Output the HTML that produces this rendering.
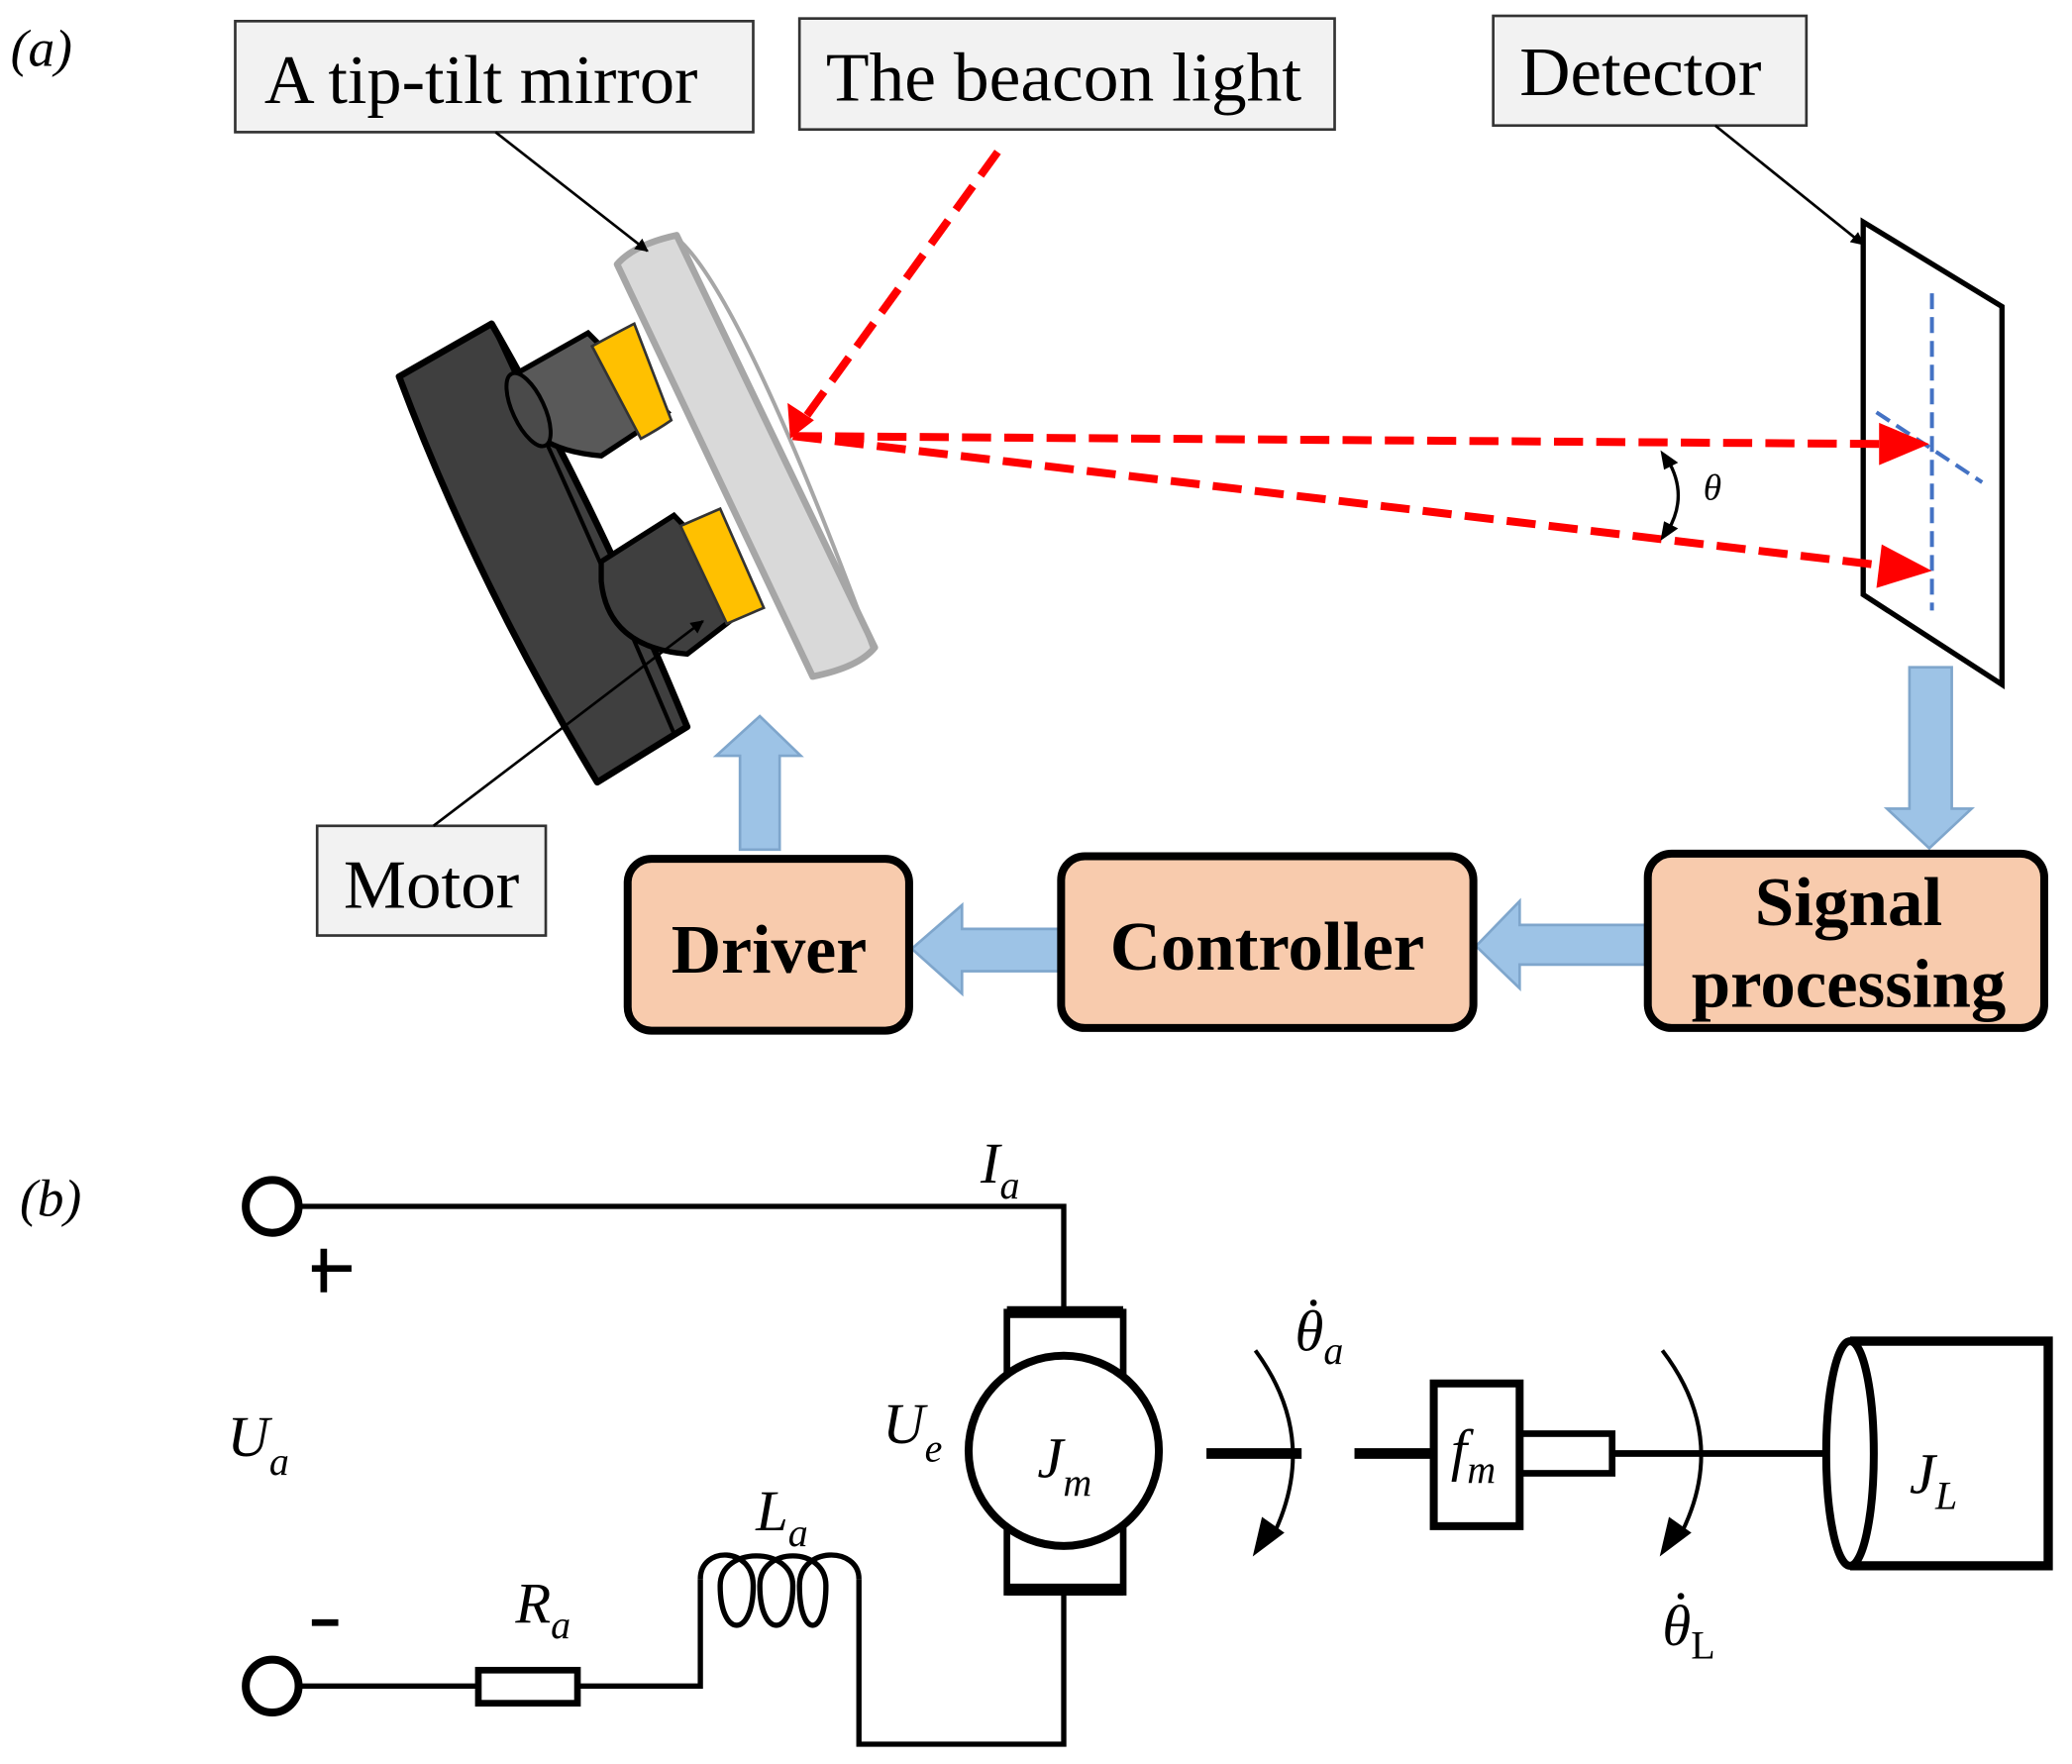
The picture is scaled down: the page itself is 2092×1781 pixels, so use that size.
<!DOCTYPE html>
<html><head><meta charset="utf-8"><style>html,body{margin:0;padding:0;background:#fff}svg{display:block}</style></head>
<body>
<svg width="2092" height="1781" viewBox="0 0 1568 1335" preserveAspectRatio="none" xmlns="http://www.w3.org/2000/svg" font-family="Liberation Serif, serif">
<defs>
<marker id="ah" markerWidth="10" markerHeight="10" refX="9" refY="5" orient="auto" markerUnits="userSpaceOnUse"><path d="M0,0 L10,5 L0,10 z" fill="#000"/></marker>
</defs>
<text x="8" y="50" font-size="40" font-style="italic">(a)</text>
<rect x="178" y="16" width="392" height="84" fill="#f2f2f2" stroke="#333" stroke-width="2"/>
<text x="200" y="78" font-size="52" textLength="328" lengthAdjust="spacingAndGlyphs">A tip-tilt mirror</text>
<rect x="605" y="14" width="405" height="84" fill="#f2f2f2" stroke="#333" stroke-width="2"/>
<text x="625" y="76" font-size="52" textLength="360" lengthAdjust="spacingAndGlyphs">The beacon light</text>
<rect x="1130" y="12" width="237" height="83" fill="#f2f2f2" stroke="#333" stroke-width="2"/>
<text x="1150" y="72" font-size="52" textLength="183" lengthAdjust="spacingAndGlyphs">Detector</text>
<rect x="240" y="625" width="173" height="83" fill="#f2f2f2" stroke="#333" stroke-width="2"/>
<text x="260" y="687" font-size="52" textLength="133" lengthAdjust="spacingAndGlyphs">Motor</text>
<!-- base -->
<path d="M302,285 L372,245 Q450,380 520,550 L452,592 Q360,440 302,285 Z" fill="#3f3f3f" stroke="#000" stroke-width="5" stroke-linejoin="round"/>
<path d="M372,245 Q440,390 510,555" fill="none" stroke="#000" stroke-width="3"/>
<!-- motors -->
<path d="M392,282 L445,252 L505,312 L455,345 Q395,340 392,300 Z" fill="#595959" stroke="#000" stroke-width="4"/>
<ellipse cx="400" cy="310" rx="12" ry="30" fill="#4a4a4a" stroke="#000" stroke-width="3" transform="rotate(-25 400 310)"/>
<path d="M455,425 L510,390 L572,455 L520,495 Q460,490 455,440 Z" fill="#3f3f3f" stroke="#000" stroke-width="4"/>
<path d="M448,262 Q470,250 480,245 L508,318 Q498,325 485,332 Z" fill="#ffc000" stroke="#333" stroke-width="2"/>
<path d="M515,398 L545,385 L578,460 L550,472 Z" fill="#ffc000" stroke="#333" stroke-width="2"/>
<!-- mirror -->
<path d="M467,200 Q480,185 512,178 L662,490 Q650,505 615,512 Z" fill="#d9d9d9" stroke="#a6a6a6" stroke-width="5" stroke-linejoin="round"/>
<path d="M512,180 Q560,220 660,490" fill="none" stroke="#a6a6a6" stroke-width="3"/>
<!-- leaders -->
<line x1="375" y1="100" x2="490" y2="190" stroke="#000" stroke-width="2" marker-end="url(#ah)"/>
<line x1="1298" y1="95" x2="1410" y2="185" stroke="#000" stroke-width="2" marker-end="url(#ah)"/>
<line x1="328" y1="625" x2="532" y2="470" stroke="#000" stroke-width="2" marker-end="url(#ah)"/>
<!-- detector -->
<path d="M1410,168 L1515,232 L1515,518 L1410,450 Z" fill="#fff" stroke="#000" stroke-width="4"/>
<line x1="1462" y1="222" x2="1462" y2="462" stroke="#4472c4" stroke-width="3" stroke-dasharray="12,6"/>
<line x1="1420" y1="312" x2="1500" y2="365" stroke="#4472c4" stroke-width="3" stroke-dasharray="12,6"/>
<!-- red beams -->
<g stroke="#ff0000" stroke-width="6" stroke-dasharray="22,10" fill="none">
<line x1="755" y1="115" x2="608" y2="318"/>
<line x1="600" y1="330" x2="1425" y2="336"/>
<line x1="600" y1="330" x2="1425" y2="428"/>
</g>
<path d="M598,332 L596,305 L616,318 Z" fill="#ff0000"/>
<path d="M1460,336 L1422,320 L1422,352 Z" fill="#ff0000"/>
<path d="M1462,432 L1424,412 L1420,445 Z" fill="#ff0000"/>
<path d="M1262,348 Q1278,375 1262,402" fill="none" stroke="#000" stroke-width="2.5"/>
<path d="M1258,343 L1268,350 L1260,354 Z M1258,407 L1268,400 L1260,396 Z" fill="#000" stroke="#000" stroke-width="2"/>
<text x="1289" y="378" font-size="28" font-style="italic">θ</text>
<!-- blue arrows -->
<g fill="#9dc3e6" stroke="#7fa6cc" stroke-width="2">
<path d="M560,643 L560,572 L542,572 L575,542 L606,572 L590,572 L590,643 Z"/>
<path d="M1445,505 L1477,505 L1477,612 L1492,612 L1460,642 L1428,612 L1445,612 Z"/>
<path d="M803,703 L728,703 L728,685 L690,718 L728,752 L728,735 L803,735 Z"/>
<path d="M1245,700 L1150,700 L1150,682 L1117,716 L1150,748 L1150,730 L1245,730 Z"/>
</g>
<g fill="#f8cbad" stroke="#000" stroke-width="6">
<rect x="475" y="650" width="213" height="130" rx="18"/>
<rect x="803" y="648" width="312" height="130" rx="18"/>
<rect x="1247" y="646" width="300" height="132" rx="18"/>
</g>
<g font-size="52" font-weight="bold">
<text x="508" y="736" textLength="148" lengthAdjust="spacingAndGlyphs">Driver</text>
<text x="840" y="734" textLength="238" lengthAdjust="spacingAndGlyphs">Controller</text>
<text x="1328" y="700" textLength="142" lengthAdjust="spacingAndGlyphs">Signal</text>
<text x="1280" y="762" textLength="238" lengthAdjust="spacingAndGlyphs">processing</text>
</g>
<!-- (b) -->
<text x="15" y="920" font-size="40" font-style="italic">(b)</text>
<g fill="none" stroke="#000" stroke-width="4">
<circle cx="206" cy="913" r="20" stroke-width="6"/>
<circle cx="206" cy="1276" r="20" stroke-width="6"/>
<polyline points="226,913 805,913 805,993"/>
<polyline points="805,1205 805,1320 650,1320 650,1195"/>
<polyline points="530,1195 530,1276 437,1276"/>
<line x1="226" y1="1276" x2="362" y2="1276"/>
<rect x="362" y="1264" width="75" height="25" stroke-width="5"/>
<path d="M530,1195 C530,1170 570,1170 570,1200 C570,1240 545,1240 545,1200 C545,1170 600,1170 600,1200 C600,1240 575,1240 575,1200 C575,1170 625,1170 625,1200 C625,1240 605,1240 605,1200 C605,1170 650,1170 650,1195"/>
<rect x="762" y="993" width="88" height="212" stroke-width="5"/>
<line x1="762" y1="993" x2="850" y2="993" stroke-width="9"/>
<line x1="762" y1="1203" x2="850" y2="1203" stroke-width="9"/>
<circle cx="805" cy="1098" r="72" fill="#fff" stroke-width="6"/>
<line x1="913" y1="1100" x2="985" y2="1100" stroke-width="8"/>
<line x1="1025" y1="1100" x2="1085" y2="1100" stroke-width="8"/>
<rect x="1085" y="1047" width="65" height="108" stroke-width="6"/>
<rect x="1150" y="1085" width="70" height="30" stroke-width="5"/>
<line x1="1220" y1="1100" x2="1385" y2="1100" stroke-width="5"/>
<path d="M1400,1015 L1550,1015 L1550,1185 L1400,1185" stroke-width="7"/>
<ellipse cx="1400" cy="1100" rx="18" ry="85" fill="#fff" stroke-width="6"/>
<path d="M950,1022 Q1000,1090 962,1165" stroke-width="3"/>
<path d="M1258,1022 Q1310,1090 1270,1165" stroke-width="3"/>
<line x1="236" y1="960" x2="266" y2="960" stroke-width="5"/>
<line x1="245" y1="945" x2="245" y2="978" stroke-width="5"/>
<line x1="236" y1="1228" x2="256" y2="1228" stroke-width="5"/>
</g>
<path d="M948,1178 L955,1148 L972,1160 Z" fill="#000"/>
<path d="M1256,1178 L1263,1148 L1280,1160 Z" fill="#000"/>
<circle cx="994" cy="986" r="2.5" fill="#000"/>
<circle cx="1272" cy="1208" r="2.5" fill="#000"/>
<g font-size="44" font-style="italic">
<text x="742" y="895">I<tspan font-size="30" dy="12">a</tspan></text>
<text x="172" y="1102">U<tspan font-size="30" dy="14">a</tspan></text>
<text x="668" y="1092">U<tspan font-size="30" dy="14">e</tspan></text>
<text x="572" y="1158">L<tspan font-size="30" dy="12">a</tspan></text>
<text x="390" y="1228">R<tspan font-size="30" dy="12">a</tspan></text>
<text x="785" y="1118">J<tspan font-size="30" dy="14">m</tspan></text>
<text x="1098" y="1112">f<tspan font-size="30" dy="10">m</tspan></text>
<text x="1445" y="1130">J<tspan font-size="30" dy="12">L</tspan></text>
<text x="980" y="1022">θ<tspan font-size="30" dy="10">a</tspan></text>
<text x="1258" y="1245">θ<tspan font-size="30" dy="10" font-style="normal">L</tspan></text>
</g>
</svg>
</body></html>
